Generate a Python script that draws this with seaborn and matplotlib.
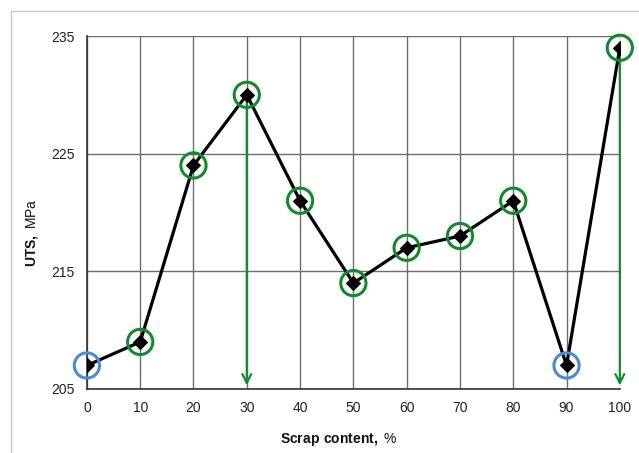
import numpy as np
import pandas as pd
import matplotlib
matplotlib.use("Agg")
import matplotlib.pyplot as plt
from matplotlib.lines import Line2D
import seaborn as sns

scrap = [0, 10, 20, 30, 40, 50, 60, 70, 80, 90, 100]
uts = [207, 209, 224, 230, 221, 214, 217, 218, 221, 207, 234]
ring_colour = ["blue", "green", "green", "green", "green", "green",
               "green", "green", "green", "blue", "green"]
arrow_at = [30, 100]

df = pd.DataFrame({"scrap": scrap, "uts": uts, "ring": ring_colour})

sns.set_theme(style="white")
plt.rcParams["font.family"] = ["Liberation Sans", "DejaVu Sans"]
plt.rcParams["mathtext.fontset"] = "custom"
plt.rcParams["mathtext.rm"] = "Liberation Sans"
plt.rcParams["mathtext.bf"] = "Liberation Sans:bold"

green = "#128a2e"
blue = "#4a8ad8"

fig = plt.figure(figsize=(6.39, 4.53), dpi=100)
ax = fig.add_axes([0.136, 0.1413, 0.834, 0.7792])

# chart-area border (only top and left visible in the original)
fig.add_artist(Line2D([11 / 639, 1], [1 - 11 / 453, 1 - 11 / 453],
                      transform=fig.transFigure, color="#c8c8c8", lw=1))
fig.add_artist(Line2D([11 / 639, 11 / 639], [0, 1 - 11 / 453],
                      transform=fig.transFigure, color="#c8c8c8", lw=1))

ax.set_xlim(0, 100)
ax.set_ylim(205, 235)
ax.set_xticks(scrap)
ax.set_yticks([205, 215, 225, 235])
ax.grid(True, color="#6e6e6e", lw=1)
ax.set_axisbelow(True)

for x in arrow_at:
    y = df.loc[df["scrap"] == x, "uts"].iloc[0]
    ax.annotate("", xy=(x, 205.3), xytext=(x, y),
                arrowprops=dict(arrowstyle="->", color=green, lw=1.6,
                                mutation_scale=16, shrinkA=0, shrinkB=0))

sns.lineplot(data=df, x="scrap", y="uts", ax=ax, color="black", lw=2.3,
             marker="D", markersize=7.5, markeredgecolor="black",
             markerfacecolor="black", zorder=4)

ax.scatter(df["scrap"], df["uts"], s=330, facecolors="none",
           edgecolors=df["ring"].map({"blue": blue, "green": green}),
           linewidths=2.2, zorder=5, clip_on=False)

for s in ["top", "right"]:
    ax.spines[s].set_visible(False)
for s in ["left", "bottom"]:
    ax.spines[s].set_color("#333333")
    ax.spines[s].set_linewidth(1.2)

ax.tick_params(axis="both", direction="out", length=6, width=1,
               color="#333333", labelsize=10, labelcolor="#222222", pad=3)

ax.set_xlabel(r"$\bf{Scrap\ content,}$ %", fontsize=10, color="#111111")
ax.set_ylabel(r"$\bf{UTS,}$ MPa", fontsize=10, color="#111111")
ax.xaxis.set_label_coords(0.473, -0.118)
ax.yaxis.set_label_coords(-0.088, 0.442)

fig.savefig("out.png", dpi=100)
